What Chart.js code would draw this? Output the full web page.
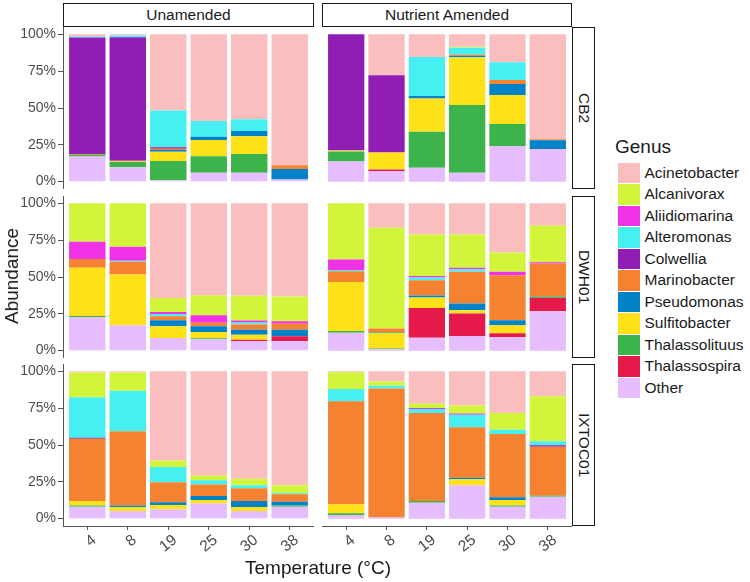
<!DOCTYPE html>
<html lang="en">
<head>
  <meta charset="UTF-8">
  <title>Genus abundance by temperature</title>
  <script src="https://cdn.jsdelivr.net/npm/chart.js"></script>
  <style>
    body { margin: 0; background: #fff; font-family: "Liberation Sans", Arial, sans-serif; }
    #wrap { position: relative; width: 750px; height: 582px; overflow: hidden; background: #fff; }
    #wrap canvas, .strip, .txt { position: absolute; }
    .strip { box-sizing: border-box; border: 1.4px solid #1a1a1a; background: #fff; color: #1a1a1a;
             font-size: 15.5px; display: flex; align-items: center; justify-content: center; }
    .strip.side { writing-mode: vertical-rl; }
    .txt { color: #1a1a1a; font-size: 19px; white-space: nowrap; }
    #legend { position: absolute; left: 615px; top: 136px; }
    #legend .item { display: flex; align-items: center; height: 21.5px; }
    #legend .key { width: 21.5px; height: 20.5px; margin: 0 5px 0 3px; }
    #legend .item span { font-size: 15.5px; color: #1a1a1a; }
  </style>
</head>
<body>
<div id="wrap">
  <div class="strip" style="left:63px; top:3px; width:251px; height:24px;">Unamended</div>
  <div class="strip" style="left:322px; top:3px; width:250px; height:24px;">Nutrient Amended</div>
  <div class="strip side" style="left:572px; top:27px; width:23px; height:162px;">CB2</div>
  <div class="strip side" style="left:572px; top:196px; width:23px; height:162px;">DWH01</div>
  <div class="strip side" style="left:572px; top:364px; width:23px; height:162px;">IXTOC01</div>

  <canvas id="p00" width="314" height="162" style="left:0; top:27px;"></canvas>
  <canvas id="p01" width="250" height="162" style="left:322px; top:27px;"></canvas>
  <canvas id="p10" width="314" height="162" style="left:0; top:196px;"></canvas>
  <canvas id="p11" width="250" height="162" style="left:322px; top:196px;"></canvas>
  <canvas id="p20" width="314" height="202" style="left:0; top:364px;"></canvas>
  <canvas id="p21" width="250" height="202" style="left:322px; top:364px;"></canvas>

  <div class="txt" style="left:12px; top:276px; transform: translate(-50%, -50%) rotate(-90deg);">Abundance</div>
  <div class="txt" style="left:318px; top:568px; transform: translate(-50%, -50%);">Temperature (°C)</div>

  <div id="legend">
    <div class="txt" style="position: static; margin-bottom: 4px;">Genus</div>
  </div>
</div>

<script>
  const temps = ['4', '8', '19', '25', '30', '38'];
  const yTicks = [0, 25, 50, 75, 100];
  const genera = ['Acinetobacter', 'Alcanivorax', 'Aliidiomarina', 'Alteromonas', 'Colwellia',
                  'Marinobacter', 'Pseudomonas', 'Sulfitobacter', 'Thalassolituus', 'Thalassospira', 'Other'];
  const genusColors = ['#fabebe', '#d2f53c', '#f032e6', '#46f0f0', '#911eb4',
                       '#f58231', '#0082c8', '#ffe119', '#3cb44b', '#e6194b', '#e6beff'];

  // one row per genus (same order as genera), one column per temperature
  const cb2Unamended = [
    [1.4, 0.7, 51.7, 58.9, 57.6, 88.8],
    [0, 0, 0, 0, 0, 0],
    [0, 0, 0, 0, 0, 0],
    [0.8, 1.2, 25, 10.6, 8.1, 0],
    [79, 84, 0.9, 0, 0, 0],
    [0.6, 0.4, 0.9, 0, 0, 2.7],
    [0, 0, 1.2, 2.3, 3.4, 7],
    [0, 0.4, 6.3, 10.9, 12.2, 0],
    [1.2, 3.6, 13, 11.3, 12.7, 0],
    [0, 0, 0, 0, 0, 0],
    [17, 9.7, 1, 6, 6, 1.5]
  ];
  const cb2Amended = [
    [0, 27.7, 15.4, 8.4, 19, 71.2],
    [0, 0, 0, 0.7, 0, 0],
    [0, 0, 0, 0, 0, 0],
    [0, 0, 26.5, 4.5, 12, 0],
    [78.7, 52.5, 0, 0, 0, 0],
    [0.4, 0, 0, 1, 2.7, 0.7],
    [0, 0, 1.6, 1, 7.5, 5.9],
    [0.5, 11.5, 22.6, 32.4, 19.7, 0],
    [6.8, 0, 24.4, 45.9, 14.9, 0],
    [0, 1.1, 0, 0, 0, 0],
    [13.6, 7.2, 9.5, 6.1, 24.2, 22.2]
  ];
  const dwhUnamended = [
    [0, 0, 64.2, 62.5, 62.7, 63.3],
    [26, 29.5, 9.5, 13.4, 16.8, 16.8],
    [11.8, 9.5, 1.5, 5.2, 1.4, 1.6],
    [0, 0.7, 1.5, 0, 1.3, 0],
    [0, 0, 0, 0, 0, 0],
    [5.9, 8.6, 2.7, 2.3, 3.6, 4.1],
    [0, 0, 4.1, 3.9, 3.4, 4.5],
    [32.7, 34.5, 7.9, 4.3, 3.4, 0],
    [0.7, 0, 0, 0.7, 0, 0],
    [0, 0, 0, 0, 1.1, 3.4],
    [22.9, 17.2, 8.6, 7.7, 6.3, 6.3]
  ];
  const dwhAmended = [
    [0, 16.6, 21.1, 21.1, 33.3, 15.2],
    [38.2, 68.4, 28.2, 22.7, 13.2, 24.7],
    [7, 0, 1.1, 0.9, 2.3, 0.9],
    [0.9, 0, 1.8, 1.8, 0, 0],
    [0, 0, 0, 0, 0, 0],
    [7.3, 2.3, 10.4, 21.5, 30.6, 22.2],
    [0, 0.5, 1.4, 4.5, 3.4, 0],
    [33.3, 10.7, 7, 2.3, 5.4, 0],
    [1.1, 0.6, 0, 0, 0, 1.1],
    [0, 0, 20.2, 15.2, 2.7, 9.1],
    [12.2, 0.9, 8.8, 10, 9.1, 26.8]
  ];
  const ixtocUnamended = [
    [0.7, 0.8, 60.6, 70.8, 72.9, 77.4],
    [16.8, 12.4, 4.3, 3.2, 4.5, 5.2],
    [0, 0, 0, 0, 0, 0],
    [27.5, 27.5, 10.4, 2.9, 2, 0.9],
    [0.7, 0, 0, 0, 0, 0],
    [42.4, 50.3, 13.5, 7.7, 8.6, 5],
    [0, 1.1, 2, 2.7, 4.1, 2.5],
    [2.9, 2.7, 2.9, 2.5, 2.7, 0],
    [0.9, 0, 0, 0, 0, 0.9],
    [0, 0, 0, 0, 0, 0],
    [8.1, 5.2, 6.3, 10.2, 5.2, 8.1]
  ];
  const ixtocAmended = [
    [0.6, 6.8, 22, 23.2, 28.3, 16.9],
    [11.3, 2.9, 2.9, 5.4, 11.3, 30.5],
    [0, 0, 0.7, 0.9, 0, 0],
    [8.4, 2, 2.7, 8.4, 2.9, 2.7],
    [0, 0, 0, 0, 0, 1.1],
    [70, 87.6, 59.8, 34.3, 42.9, 33.2],
    [0, 0, 0, 1.1, 2, 0],
    [6.1, 0, 0, 4.1, 3.6, 0],
    [1.1, 0, 1.1, 0, 0.9, 0.7],
    [0, 0, 0, 0, 0, 0],
    [2.5, 0.7, 10.8, 22.6, 8.1, 14.9]
  ];

  const fontFamily = '"Liberation Sans", Arial, sans-serif';
  Chart.defaults.font.family = fontFamily;

  // legend
  const legend = document.getElementById('legend');
  genera.forEach((g, k) => {
    const item = document.createElement('div');
    item.className = 'item';
    item.innerHTML = '<div class="key" style="background:' + genusColors[k] + '"></div><span>' + g + '</span>';
    legend.appendChild(item);
  });

  function makePanel(id, table, showY, showX) {
    // Other sits at the bottom of each stack, Acinetobacter on top
    const datasets = genera.map((g, k) => ({
      label: g,
      data: table[k].map((v, i) => ({ x: i + 1, y: v })),
      backgroundColor: genusColors[k],
      borderWidth: 0,
      barPercentage: 0.9,
      categoryPercentage: 1
    })).reverse();

    new Chart(document.getElementById(id), {
      type: 'bar',
      data: { datasets: datasets },
      options: {
        responsive: false,
        animation: false,
        layout: { padding: 0 },
        plugins: { legend: { display: false }, tooltip: { enabled: false } },
        scales: {
          x: {
            type: 'linear',
            stacked: true,
            offset: false,
            min: 0.4,
            max: 6.6,
            display: showX,
            afterBuildTicks: s => { s.ticks = temps.map((t, i) => ({ value: i + 1 })); },
            afterFit: s => { if (showX) s.height = 40; s.paddingLeft = 0; s.paddingRight = 0; },
            border: { display: true, color: '#555', width: 1 },
            grid: { offset: false, drawOnChartArea: false, tickLength: 4, color: '#555' },
            ticks: {
              autoSkip: false,
              minRotation: 38,
              maxRotation: 38,
              padding: 1,
              labelOffset: 7,
              color: '#4d4d4d',
              font: { size: 15.5 },
              callback: v => temps[v - 1]
            }
          },
          y: {
            stacked: true,
            min: -5,
            max: 105,
            display: showY,
            afterBuildTicks: s => { s.ticks = yTicks.map(v => ({ value: v })); },
            afterFit: s => { if (showY) s.width = 63; s.paddingTop = 0; s.paddingBottom = 0; },
            border: { display: true, color: '#555', width: 1 },
            grid: { drawOnChartArea: false, tickLength: 5, color: '#555' },
            ticks: {
              padding: 2,
              color: '#4d4d4d',
              font: { size: 14 },
              callback: v => v + '%'
            }
          }
        }
      }
    });
  }

  makePanel('p00', cb2Unamended, true, false);
  makePanel('p01', cb2Amended, false, false);
  makePanel('p10', dwhUnamended, true, false);
  makePanel('p11', dwhAmended, false, false);
  makePanel('p20', ixtocUnamended, true, true);
  makePanel('p21', ixtocAmended, false, true);
</script>
</body>
</html>
